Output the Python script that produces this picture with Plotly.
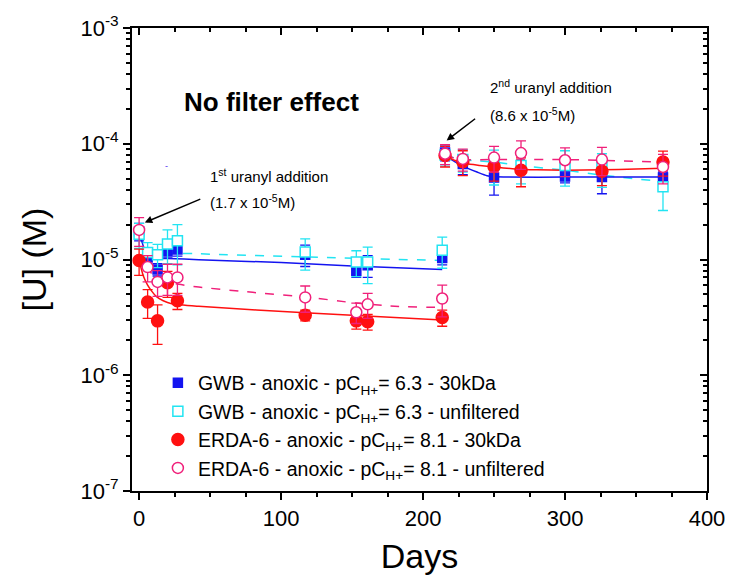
import plotly.graph_objects as go
import numpy as np

# ---------------- data ----------------
gwb30_days = [0, 6, 13, 20, 27, 117, 153, 161, 213.5, 215.5, 228, 250, 300, 326, 369]
gwb30_vals = [1.75e-5, 1.04e-5, 8.2e-6, 1.17e-5, 1.22e-5, 1.1e-5, 8.0e-6, 8.9e-6, 1.03e-5,
              8.4e-5, 6.7e-5, 5.1e-5, 5.2e-5, 5.15e-5, 5.1e-5]
gwb30_err = [3.0e-6, 1.3e-6, 1.0e-6, 1.4e-6, 1.5e-6, 2.3e-6, 1.0e-6, 1.9e-6, 1.3e-6,
             1.3e-5, 1.3e-5, 1.5e-5, 6.0e-6, 1.45e-5, 6.0e-6]

gwbun_days = [0, 6, 13, 20, 27, 117, 153, 161, 213.5, 215.5, 228, 250, 269, 300, 326, 369]
gwbun_vals = [1.65e-5, 1.15e-5, 1.1e-5, 1.36e-5, 1.45e-5, 1.16e-5, 9.5e-6, 9.5e-6, 1.2e-5,
              8.0e-5, 7.3e-5, 6.6e-5, 6.5e-5, 6.5e-5, 6.2e-5, 4.25e-5]
gwbun_err = [4.0e-6, 2.5e-6, 2.5e-6, 4.4e-6, 5.5e-6, 3.5e-6, 2.4e-6, 3.3e-6, 3.6e-6,
             1.6e-5, 1.6e-5, 2.2e-5, 2.0e-5, 2.2e-5, 2.0e-5, 1.6e-5]

erda30_days = [0, 6, 13, 20, 27, 117, 153, 161, 213.5, 215.5, 228, 250, 269, 326, 369]
erda30_vals = [9.8e-6, 4.3e-6, 2.95e-6, 6.3e-6, 4.4e-6, 3.3e-6, 2.95e-6, 2.9e-6, 3.15e-6,
               7.9e-5, 7.0e-5, 6.35e-5, 5.9e-5, 5.8e-5, 6.95e-5]
erda30_err = [2.5e-6, 1.2e-6, 1.1e-6, 1.6e-6, 0.7e-6, 0.35e-6, 0.45e-6, 0.45e-6, 0.5e-6,
              1.6e-5, 1.7e-5, 1.6e-5, 1.65e-5, 1.45e-5, 1.7e-5]

erdaun_days = [0, 6, 13, 20, 27, 117, 153, 161, 213.5, 215.5, 228, 250, 269, 300, 326, 369]
erdaun_vals = [1.8e-5, 8.6e-6, 6.4e-6, 7.0e-6, 7.0e-6, 4.7e-6, 3.5e-6, 4.1e-6, 4.6e-6,
               8.2e-5, 7.4e-5, 7.6e-5, 8.3e-5, 7.2e-5, 7.3e-5, 6.3e-5]
erdaun_err = [5.0e-6, 2.2e-6, 1.6e-6, 2.1e-6, 2.1e-6, 1.2e-6, 0.7e-6, 1.0e-6, 1.4e-6,
              1.6e-5, 1.6e-5, 1.9e-5, 2.3e-5, 2.0e-5, 2.0e-5, 1.8e-5]

# fitted curves; None breaks the curve between additions
fit_gwb30_days = [0, 3, 6, 10, 20, 42, 100, 150, 213.5, None,
                  215.5, 220, 226, 232, 238, 245, 250, 260, 300, 369]
fit_gwb30_vals = [1.75e-5, 1.3e-5, 1.06e-5, 1.03e-5, 1.02e-5, 9.97e-6, 9.4e-6, 8.8e-6, 8.2e-6, None,
                  7.9e-5, 7.3e-5, 6.6e-5, 6.1e-5, 5.7e-5, 5.3e-5, 5.2e-5, 5.15e-5, 5.15e-5, 5.15e-5]

fit_gwbun_days = [0, 3, 6, 10, 20, 42, 120, 213.5, None,
                  215.5, 225, 235, 250, 270, 300, 326, 369]
fit_gwbun_vals = [1.65e-5, 1.35e-5, 1.2e-5, 1.16e-5, 1.14e-5, 1.12e-5, 1.05e-5, 9.8e-6, None,
                  8.0e-5, 7.4e-5, 7.15e-5, 6.95e-5, 6.45e-5, 5.9e-5, 5.35e-5, 4.7e-5]

fit_erda30_days = [0, 3, 6, 9, 12, 17, 23, 42, 120, 213.5, None,
                   215.5, 222, 230, 240, 250, 265, 280, 300, 326, 350, 369]
fit_erda30_vals = [9.8e-6, 7.2e-6, 6.0e-6, 5.3e-6, 4.8e-6, 4.4e-6, 4.15e-6, 3.94e-6, 3.45e-6, 3.0e-6, None,
                   7.9e-5, 7.2e-5, 6.75e-5, 6.5e-5, 6.3e-5, 6.05e-5, 5.95e-5, 5.9e-5, 5.95e-5, 6.05e-5, 6.15e-5]

fit_erdaun_days = [0, 3, 6, 9, 12, 20, 28, 42, 80, 117, 153, 180, 213.5, None,
                   215.5, 222, 228, 250, 300, 369]
fit_erdaun_vals = [1.78e-5, 1.13e-5, 8.7e-6, 7.5e-6, 6.9e-6, 6.4e-6, 6.1e-6, 5.78e-6, 5.2e-6, 4.75e-6,
                   4.2e-6, 3.95e-6, 3.85e-6, None,
                   8.1e-5, 7.5e-5, 7.3e-5, 7.3e-5, 7.3e-5, 6.95e-5]

y_tickvals = [1e-7, 1e-6, 1e-5, 1e-4, 1e-3]
y_ticktext = ["10<sup>-7</sup>", "10<sup>-6</sup>", "10<sup>-5</sup>", "10<sup>-4</sup>", "10<sup>-3</sup>"]

BLUE = "#1414F0"
CYAN = "#22E4F2"
RED = "#FF1010"
PINK = "#F0207A"
FONT = "Arial, Liberation Sans, sans-serif"

fig = go.Figure()

# fit lines
for dx, dy, col, dash in [
    (fit_gwbun_days, fit_gwbun_vals, CYAN, "dash"),
    (fit_erdaun_days, fit_erdaun_vals, PINK, "dash"),
    (fit_gwb30_days, fit_gwb30_vals, BLUE, "solid"),
    (fit_erda30_days, fit_erda30_vals, RED, "solid"),
]:
    fig.add_trace(go.Scatter(x=dx, y=dy, mode="lines", showlegend=False, hoverinfo="skip",
                             line=dict(color=col, width=1.5, dash=dash, shape="spline", smoothing=0.6),
                             connectgaps=False))

sub = "<sub>H+</sub>"
series = [
    (gwb30_days, gwb30_vals, gwb30_err, BLUE, "square", BLUE, 9,
     f"GWB - anoxic - pC{sub}= 6.3 - 30kDa"),
    (gwbun_days, gwbun_vals, gwbun_err, CYAN, "square", "white", 10,
     f"GWB - anoxic - pC{sub}= 6.3 - unfiltered"),
    (erda30_days, erda30_vals, erda30_err, RED, "circle", RED, 12,
     f"ERDA-6 - anoxic - pC{sub}= 8.1 - 30kDa"),
    (erdaun_days, erdaun_vals, erdaun_err, PINK, "circle", "white", 11,
     f"ERDA-6 - anoxic - pC{sub}= 8.1 - unfiltered"),
]
for dx, dy, de, col, sym, fill, size, name in series:
    fig.add_trace(go.Scatter(
        x=dx, y=dy, mode="markers", name=name,
        marker=dict(symbol=sym, color=fill, size=size, line=dict(color=col, width=1.5)),
        error_y=dict(type="data", array=de, visible=True, color=col, thickness=1.3, width=5),
    ))

# empty trace so the mirrored axes are drawn
fig.add_trace(go.Scatter(x=[None], y=[None], xaxis="x2", yaxis="y2", showlegend=False))

common_x = dict(range=[-5, 400], dtick=100, tick0=0, showgrid=False, zeroline=False,
                showline=True, linecolor="black", linewidth=2, tickwidth=1.5, tickcolor="black")
common_y = dict(type="log", range=[-7, -3], showgrid=False, zeroline=False,
                showline=True, linecolor="black", linewidth=2, tickwidth=1.5, tickcolor="black",
                tickvals=y_tickvals, ticktext=y_ticktext)

fig.update_layout(
    width=737, height=582,
    margin=dict(l=132, r=24, t=25, b=91),
    paper_bgcolor="white", plot_bgcolor="white",
    font=dict(family=FONT, color="black"),
    xaxis=dict(**common_x, ticks="outside", ticklen=7,
               minor=dict(ticks="outside", ticklen=4, dtick=25, tickcolor="black"),
               tickfont=dict(size=22, family=FONT),
               title=dict(text="Days", font=dict(size=34, family=FONT), standoff=14)),
    xaxis2=dict(**common_x, ticks="inside", ticklen=7, overlaying="x", side="top",
                anchor="y", showticklabels=False,
                minor=dict(ticks="inside", ticklen=4, dtick=25, tickcolor="black")),
    yaxis=dict(**common_y, ticks="outside", ticklen=7,
               minor=dict(ticks="outside", ticklen=4, dtick="D1", tickcolor="black"),
               tickfont=dict(size=22, family=FONT),
               title=dict(text="[U] (M)", font=dict(size=34, family=FONT), standoff=24)),
    yaxis2=dict(**common_y, ticks="inside", ticklen=7, overlaying="y", side="right",
                anchor="x", showticklabels=False,
                minor=dict(ticks="inside", ticklen=4, dtick="D1", tickcolor="black")),
    legend=dict(x=0.045, y=0.275, xanchor="left", yanchor="top", bgcolor="rgba(0,0,0,0)",
                font=dict(size=19.5, family=FONT), tracegroupgap=0, itemsizing="trace"),
    showlegend=True,
)

ann_font = dict(size=15, family=FONT, color="black")
annotations = [
    dict(x=30.5, y=-3.635, text="<b>No filter effect</b>", showarrow=False, xanchor="left",
         yanchor="middle", font=dict(size=26, family=FONT, color="black")),
    dict(x=48.7, y=-4.27, text="1<sup>st</sup> uranyl addition", showarrow=False,
         xanchor="left", yanchor="middle", font=ann_font),
    dict(x=48.7, y=-4.502, text="(1.7 x 10<sup>-5</sup>M)", showarrow=False,
         xanchor="left", yanchor="middle", font=ann_font),
    dict(x=4.0, y=-4.68, text="", showarrow=True, ax=57, ay=-24, arrowhead=2, arrowsize=1,
         arrowwidth=1.5, arrowcolor="black"),
    dict(x=245.7, y=-3.506, text="2<sup>nd</sup> uranyl addition", showarrow=False,
         xanchor="left", yanchor="middle", font=ann_font),
    dict(x=245.7, y=-3.744, text="(8.6 x 10<sup>-5</sup>M)", showarrow=False,
         xanchor="left", yanchor="middle", font=ann_font),
    dict(x=216.6, y=-3.973, text="", showarrow=True, ax=30, ay=-23, arrowhead=2, arrowsize=1,
         arrowwidth=1.5, arrowcolor="black"),
    dict(x=19.4, y=-4.193, text="-", showarrow=False, font=dict(size=9, color="#5030F0")),
]
for a in annotations:
    a.setdefault("xref", "x")
    a.setdefault("yref", "y")
    fig.add_annotation(**a)

fig.write_html("out.html")
